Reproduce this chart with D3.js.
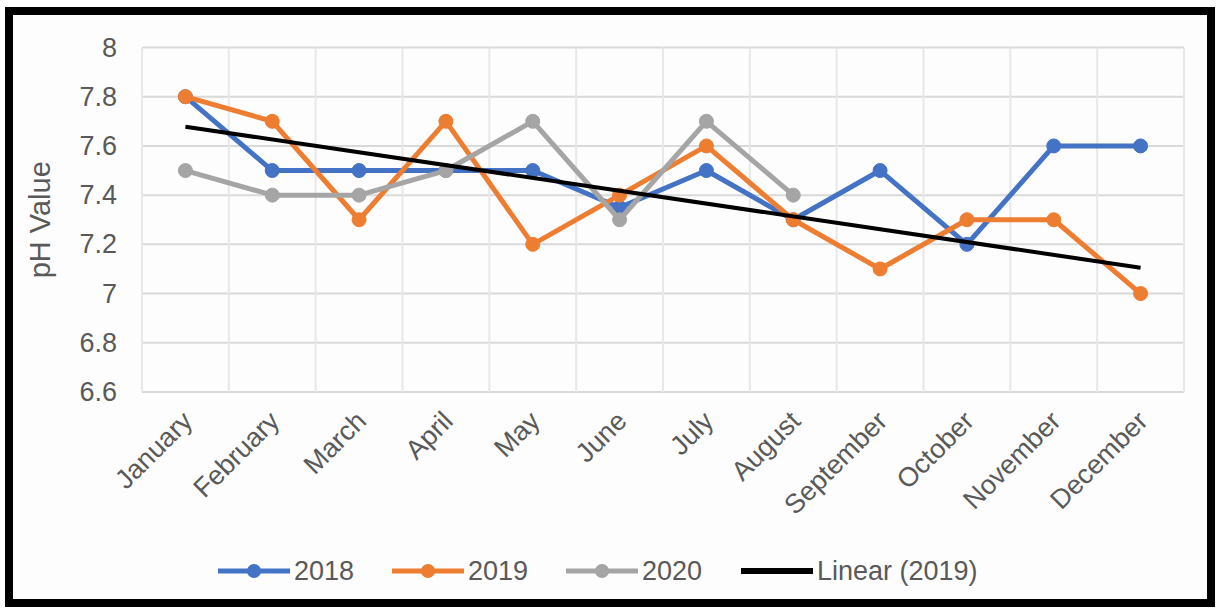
<!DOCTYPE html>
<html>
<head>
<meta charset="utf-8">
<script src="https://cdn.jsdelivr.net/npm/d3@7"></script>
<style>
  html, body { margin: 0; padding: 0; background: #ffffff; }
  svg { display: block; }
  text { font-family: "Liberation Sans", Arial, sans-serif; fill: #595959; }
</style>
</head>
<body>
<svg id="chart" width="1220" height="610"></svg>
<script>
// Monthly pH readings
const months = ["January", "February", "March", "April", "May", "June",
                "July", "August", "September", "October", "November", "December"];
const ph2018 = [7.8, 7.5, 7.5, 7.5, 7.5, 7.35, 7.5, 7.3, 7.5, 7.2, 7.6, 7.6];
const ph2019 = [7.8, 7.7, 7.3, 7.7, 7.2, 7.4, 7.6, 7.3, 7.1, 7.3, 7.3, 7.0];
const ph2020 = [7.5, 7.4, 7.4, 7.5, 7.7, 7.3, 7.7, 7.4];
const seriesNames = ["2018", "2019", "2020"];
const yTicks = [6.6, 6.8, 7, 7.2, 7.4, 7.6, 7.8, 8];
const trendLabel = "Linear (2019)";
const axisTitle = "pH Value";

const colors = ["#4472C4", "#ED7D31", "#A5A5A5"];
const series = [ph2018, ph2019, ph2020].map((vals, i) => ({
  name: seriesNames[i], color: colors[i],
  points: vals.map((v, j) => ({ m: months[j], v }))
}));

const svg = d3.select("#chart");
const W = 1220, H = 610;

// outer frame
svg.append("rect").attr("x", 0).attr("y", 0).attr("width", W).attr("height", H).attr("fill", "#ffffff");
svg.append("rect").attr("x", 9).attr("y", 11).attr("width", W - 14 - 4).attr("height", H - 11 - 7)
  .attr("fill", "#fdfdfd").attr("stroke", "#000").attr("stroke-width", 8);

const plot = { left: 142, right: 1184, top: 47.5, bottom: 392 };

const x = d3.scaleBand().domain(months).range([plot.left, plot.right]);
const y = d3.scaleLinear().domain([6.6, 8]).range([plot.bottom, plot.top]);
const cx = m => x(m) + x.bandwidth() / 2;

// gridlines
const grid = svg.append("g");
grid.selectAll("line.h").data(yTicks).join("line")
  .attr("x1", plot.left).attr("x2", plot.right)
  .attr("y1", d => y(d)).attr("y2", d => y(d))
  .attr("stroke", "#d9d9d9").attr("stroke-width", 2);
const bounds = months.map(m => x(m)).concat([plot.right]);
grid.selectAll("line.v").data(bounds).join("line")
  .attr("x1", d => d).attr("x2", d => d)
  .attr("y1", plot.top).attr("y2", plot.bottom)
  .attr("stroke", "#e8e8e8").attr("stroke-width", 2);

// y axis (labels only)
const yAxis = d3.axisLeft(y).tickValues(yTicks).tickSize(0).tickPadding(25)
  .tickFormat(d => d3.format("")(+d.toFixed(1)));
svg.append("g").attr("transform", `translate(${plot.left},0)`).call(yAxis)
  .call(g => g.select(".domain").remove())
  .call(g => g.selectAll("text").attr("font-size", 27).attr("fill", "#595959")
    .attr("font-family", "'Liberation Sans', Arial, sans-serif"));

// x axis labels rotated
const xAxis = d3.axisBottom(x).tickSize(0).tickPadding(0);
svg.append("g").attr("transform", `translate(0,${plot.bottom})`).call(xAxis)
  .call(g => g.select(".domain").remove())
  .call(g => g.selectAll("text")
    .attr("font-size", 27).attr("fill", "#595959")
    .attr("font-family", "'Liberation Sans', Arial, sans-serif")
    .attr("text-anchor", "end")
    .attr("dy", "0.35em")
    .attr("transform", "translate(2,24) rotate(-45)"));

// axis title
svg.append("text")
  .attr("transform", `translate(40,${(plot.top + plot.bottom) / 2}) rotate(-90)`)
  .attr("text-anchor", "middle").attr("dy", "0.35em")
  .attr("font-size", 29).attr("fill", "#595959").text(axisTitle);

// series lines + markers
const line = d3.line().x(d => cx(d.m)).y(d => y(d.v));
series.forEach(s => {
  const g = svg.append("g");
  g.append("path").datum(s.points).attr("d", line)
    .attr("fill", "none").attr("stroke", s.color).attr("stroke-width", 5)
    .attr("stroke-linejoin", "round").attr("stroke-linecap", "round");
  g.selectAll("circle").data(s.points).join("circle")
    .attr("cx", d => cx(d.m)).attr("cy", d => y(d.v)).attr("r", 7)
    .attr("fill", s.color).attr("stroke", s.color).attr("stroke-width", 1);
});

// least-squares trend of the 2019 series
const n = ph2019.length;
const xs = d3.range(1, n + 1);
const mx = d3.mean(xs), my = d3.mean(ph2019);
const slope = d3.sum(xs, (xi, i) => (xi - mx) * (ph2019[i] - my)) / d3.sum(xs, xi => (xi - mx) ** 2);
const icpt = my - slope * mx;
const trendPts = [{ m: months[0], v: icpt + slope * 1 }, { m: months[n - 1], v: icpt + slope * n }];
svg.append("path").datum(trendPts).attr("d", line)
  .attr("fill", "none").attr("stroke", "#000").attr("stroke-width", 4);

// legend
const legendY = 571;
const legendItems = series.map(s => ({ name: s.name, color: s.color, marker: true }))
  .concat([{ name: trendLabel, color: "#000", marker: false }]);
const legendX = [218, 392, 566, 741];
const lg = svg.append("g");
legendItems.forEach((it, i) => {
  const x0 = legendX[i];
  lg.append("line").attr("x1", x0).attr("x2", x0 + 72).attr("y1", legendY).attr("y2", legendY)
    .attr("stroke", it.color).attr("stroke-width", it.marker ? 5 : 6);
  if (it.marker) {
    lg.append("circle").attr("cx", x0 + 36).attr("cy", legendY).attr("r", 7).attr("fill", it.color);
  }
  lg.append("text").attr("x", x0 + 76).attr("y", legendY).attr("dy", "0.35em")
    .attr("font-size", 27).attr("fill", "#595959").text(it.name);
});
</script>
</body>
</html>
